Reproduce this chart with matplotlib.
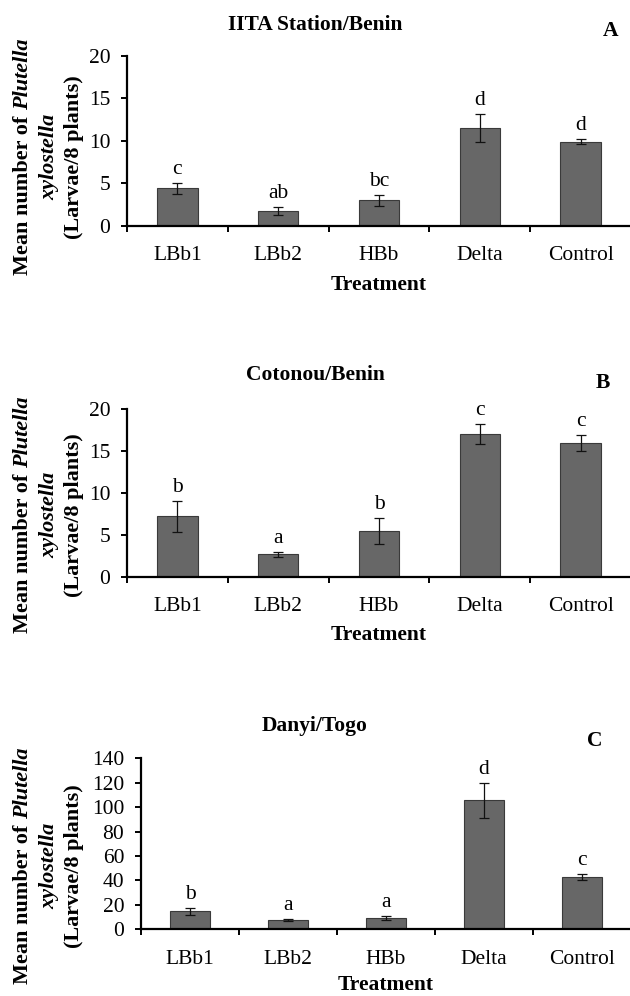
import matplotlib
matplotlib.use("Agg")
import matplotlib.pyplot as plt
from matplotlib.transforms import IdentityTransform
import numpy as np

plt.rcParams['font.family'] = ['Liberation Serif', 'DejaVu Serif']

categories = ['LBb1', 'LBb2', 'HBb', 'Delta', 'Control']

titles = ['IITA Station/Benin', 'Cotonou/Benin', 'Danyi/Togo']
panel_tags = ['A', 'B', 'C']

means_a = [4.4, 1.7, 3.0, 11.5, 9.9]
err_a = [0.65, 0.45, 0.65, 1.65, 0.25]
letters_a = ['c', 'ab', 'bc', 'd', 'd']

means_b = [7.2, 2.7, 5.5, 17.1, 16.0]
err_b = [1.8, 0.3, 1.55, 1.2, 0.95]
letters_b = ['b', 'a', 'b', 'c', 'c']

means_c = [14.6, 7.4, 9.0, 105.7, 42.5]
err_c = [2.5, 0.8, 1.5, 14.4, 2.5]
letters_c = ['b', 'a', 'a', 'd', 'c']

ymax = [20, 20, 140]
ystep = [5, 5, 20]

W, H = 630, 996
fig = plt.figure(figsize=(W / 100, H / 100), dpi=100)

FS = 15.5
# layout in pixels (from top): axes left, axes top, axes bottom
layout = [
    dict(left=127, top=56, bottom=225.5, title_base=29.5, tag_x=611, tag_base=35.5, ylab_cy=157, treat=64.5),
    dict(left=127, top=409.3, bottom=576.7, title_base=380, tag_x=603, tag_base=388, ylab_cy=515, treat=63.5),
    dict(left=141, top=758.3, bottom=929.3, title_base=731, tag_x=595, tag_base=746, ylab_cy=866, treat=60.5),
]
right = 631

all_means = [means_a, means_b, means_c]
all_err = [err_a, err_b, err_c]
all_letters = [letters_a, letters_b, letters_c]

renderer = fig.canvas.get_renderer()


def text_width(s, **kw):
    t = fig.text(0, 0, s, **kw)
    w = t.get_window_extent(renderer).width
    t.remove()
    return w


def draw_ylabel(cy_top):
    fs_lab = 16
    cy = H - cy_top
    lines = [
        [('Mean number of', 'normal'), (' ', 'space'), ('Plutella', 'italic')],
        [('xylostella', 'italic')],
        [('(Larvae/8 plants)', 'normal')],
    ]
    baselines = [28.5, 54, 79.5]
    for line, xb in zip(lines, baselines):
        widths = []
        for s, st in line:
            if st == 'space':
                widths.append(0.25 * fs_lab * 100 / 72)
            else:
                widths.append(text_width(s, fontsize=fs_lab, fontweight='bold', fontstyle=st))
        total = sum(widths)
        y0 = cy - total / 2
        for (s, st), w in zip(line, widths):
            if st != 'space':
                fig.text(xb, y0, s, fontsize=fs_lab, fontweight='bold', fontstyle=st,
                         rotation=90, rotation_mode='anchor', ha='left', va='baseline',
                         transform=IdentityTransform())
            y0 += w


for k in range(3):
    L = layout[k]
    ax = fig.add_axes([L['left'] / W, 1 - L['bottom'] / H,
                       (right - L['left']) / W, (L['bottom'] - L['top']) / H])
    x = np.arange(len(categories))
    ax.bar(x, all_means[k], width=0.4, color='#676767', edgecolor='#3a3a3a', linewidth=0.8,
           yerr=all_err[k], error_kw=dict(ecolor='#111111', elinewidth=0.9, capsize=3.5, capthick=0.9),
           zorder=2)
    ax.set_xlim(-0.5, 4.5)
    ax.set_ylim(0, ymax[k])
    ax.set_yticks(np.arange(0, ymax[k] + 0.1, ystep[k]))
    ax.set_xticks(np.arange(-0.5, 4.6, 1.0))
    ax.set_xticklabels([])
    for sp in ['top', 'right']:
        ax.spines[sp].set_visible(False)
    for sp in ['left', 'bottom']:
        ax.spines[sp].set_linewidth(1.6)
        ax.spines[sp].set_color('black')
    ax.tick_params(axis='both', direction='out', length=4, width=1.4, color='black')
    ax.tick_params(axis='y', labelsize=FS, pad=8)
    for lab in ax.get_yticklabels():
        lab.set_fontsize(FS)

    for i, cat in enumerate(categories):
        ax.annotate(cat, xy=(i, 0), xycoords=('data', 'axes fraction'),
                    xytext=(0, -34.5 * 0.72), textcoords='offset points',
                    ha='center', va='baseline', fontsize=FS, annotation_clip=False)
        top = all_means[k][i] + all_err[k][i]
        ax.annotate(all_letters[k][i], xy=(i, top), xytext=(0, 6.5), textcoords='offset points',
                    ha='center', va='baseline', fontsize=FS)

    ax.annotate('Treatment', xy=(0.5, 0), xycoords='axes fraction',
                xytext=(0, -L['treat'] * 0.72), textcoords='offset points',
                ha='center', va='baseline', fontsize=FS, fontweight='bold', annotation_clip=False)

    fig.text(315, H - L['title_base'], titles[k], fontsize=FS, fontweight='bold',
             ha='center', va='baseline', transform=IdentityTransform())
    fig.text(L['tag_x'], H - L['tag_base'], panel_tags[k], fontsize=FS, fontweight='bold',
             ha='center', va='baseline', transform=IdentityTransform())
    draw_ylabel(L['ylab_cy'])

fig.savefig('out.png', dpi=100)
